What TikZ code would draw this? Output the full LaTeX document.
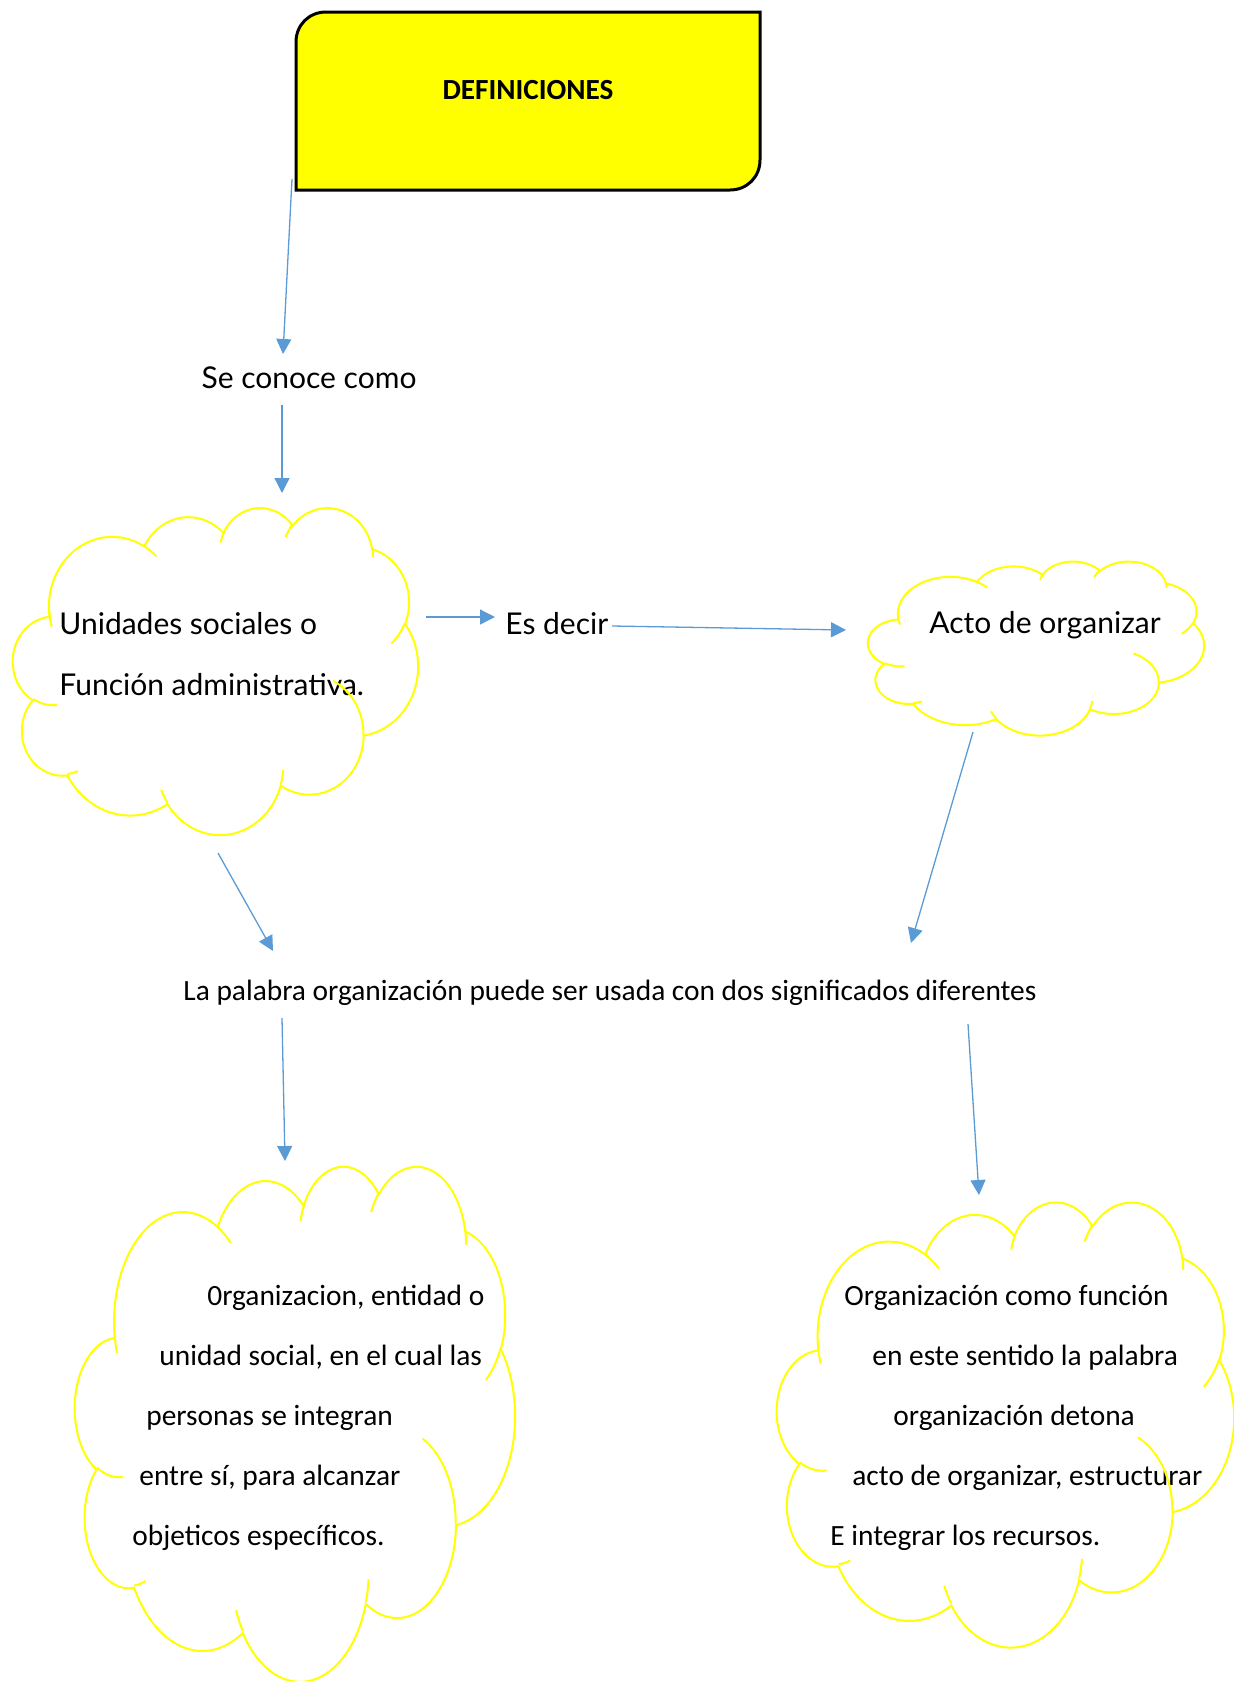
\documentclass[tikz,border=0pt]{standalone}
\usepackage{fontspec}
\setmainfont{Carlito}
\newfontfamily\gillfont{Lato}
\usetikzlibrary{positioning,arrows.meta}
\definecolor{linkblue}{HTML}{5B9BD5}
\definecolor{cloudyellow}{HTML}{FFFF00}

% cloud outline in a 4320 x 4320 box: #1,#2 top left corner, #3 width, #4 height
\newcommand{\wordcloud}[4]{%
	\begin{scope}[shift={(#1,#2)},xscale=#3/4320,yscale=#4/4320]
	\draw[cloudline] (390,1437)
		foreach \w/\h/\s/\d
		[evaluate=\s as \cst using {atan2(\w*sin(\s),\h*cos(\s))},
		 evaluate=\s as \csw using {mod(atan2(\w*sin(\s+\d),\h*cos(\s+\d))-\cst+720,360)}]
		in {675.3/919.0/-190.4875/123.7805, 533.3/726.7/-144.1024/89.9452,
			436.5/594.5/-145.8079/99.7230, 485.7/659.5/-130.9861/117.2417,
			533.3/727.3/-78.7089/109.0269, 677.5/922.0/-46.2673/130.2690,
			578.5/786.7/0.6250/114.0333, 675.2/921.5/22.4516/115.1726,
			772.0/1054.3/66.2426/75.7110, 436.0/591.8/-274.9421/146.7356,
			434.5/594.5/-246.8285/152.5189}
		{arc[start angle=\cst,delta angle=\csw,x radius=\w,y radius=\h]} -- cycle;
	\draw[cloudline]
		foreach \x/\y/\w/\h/\s/\d
		[evaluate=\s as \cst using {atan2(\w*sin(\s),\h*cos(\s))},
		 evaluate=\s as \csw using {mod(atan2(\w*sin(\s+\d),\h*cos(\s+\d))-\cst+720,360)}]
		in {469.3/2617.7/434.5/594.5/86.7420/26.4295,
			692.8/3489.9/436.0/591.8/73.6105/11.4475,
			1647.8/3909.0/675.2/921.5/137.6242/14.0811,
			2882.7/3475.1/675.2/921.5/6.4533/15.9984,
			3412.9/2295.4/578.5/786.7/-70.2924/70.9174,
			4179.8/1535.4/533.3/727.3/30.3180/27.7515,
			3832.4/542.6/485.7/659.5/-13.7443/14.8538,
			2907.8/395.2/485.7/659.5/-149.1815/18.1943,
			2214.1/472.0/436.5/594.5/-163.4943/17.6881,
			1400.0/519.2/675.3/919.0/-66.7070/12.3194,
			412.7/1578.9/675.3/919.0/158.1623/18.4460}
		{(\x,\y) arc[start angle=\cst,delta angle=\csw,x radius=\w,y radius=\h]};
	\end{scope}}

\begin{document}
\begin{tikzpicture}[x=0.5pt,y=-0.5pt,>={Triangle[length=7.5pt,width=7.5pt]},
	link/.style={->,linkblue,line width=0.65pt},
	cloudline/.style={draw=cloudyellow,line width=1pt},
	gill/.style={font=\gillfont\fontsize{15}{30.5}\selectfont,inner sep=0pt},
	cal/.style={font=\fontsize{14.7}{30}\selectfont,inner sep=0pt}]
	\useasboundingbox (0,0) rectangle (1234,1681);

	% title box
	\draw[fill=cloudyellow,line width=1.5pt] (296,190) -- (296,42)
		.. controls (296,25) and (309,12) .. (326,12) -- (760,12) -- (760,160)
		.. controls (760,177) and (747,190) .. (730,190) -- cycle;
	\node[font=\bfseries\fontsize{14.6}{16}\selectfont] (D) at (528,90) {DEFINICIONES};

	% texts
	\node[gill] (S) at (309,378) {Se conoce como};
	\node[gill,anchor=west,align=left] (U) at (59,654)
		{Unidades sociales o\\Función administrativa.};
	\node[gill,anchor=west] (E) at (505,624) {Es decir};
	\node[gill] (A) at (1045,625) {Acto de organizar};
	\node[font=\fontsize{14.7}{16}\selectfont] (L) at (610,993)
		{La palabra organización puede ser usada con dos significados diferentes};
	\node[cal,anchor=west,align=left] (O1) at (132,1418)
		{\hspace*{37.5pt}0rganizacion, entidad o\\
		 \hspace*{13.5pt}unidad social, en el cual las\\
		 \hspace*{7pt}personas se integran\\
		 \hspace*{3.5pt}entre sí, para alcanzar\\
		 objeticos específicos.};
	\node[cal,anchor=west,align=left] (O2) at (830,1418)
		{\hspace*{7pt}Organización como función\\
		 \hspace*{21pt}en este sentido la palabra\\
		 \hspace*{31.5pt}organización detona\\
		 \hspace*{11pt}acto de organizar, estructurar\\
		 E integrar los recursos.};

	% clouds
	\wordcloud{13}{507}{405}{327}
	\wordcloud{868}{561}{336}{174}
	\wordcloud{75}{1165}{440}{515}
	\wordcloud{777}{1201}{457}{445}

	% arrow ends
	\coordinate (Dout) at (292,179);  \coordinate (Sin) at (283,354);
	\coordinate (Sout) at (282,405);  \coordinate (C1in) at (282,493);
	\coordinate (C1out) at (426,617); \coordinate (Ein) at (495,617);
	\coordinate (Eout) at (612,626);  \coordinate (C2in) at (846,630);
	\coordinate (C2out) at (973,732); \coordinate (Lin2) at (911,943);
	\coordinate (C1down) at (218,853); \coordinate (Lin1) at (273,951);
	\coordinate (Lout1) at (282,1018); \coordinate (C3in) at (285,1161);
	\coordinate (Lout2) at (968,1024); \coordinate (C4in) at (979,1195);

	\draw[link] (Dout) -- (Sin);
	\draw[link] (Sout) -- (C1in);
	\draw[link] (C1out) -- (Ein);
	\draw[link] (Eout) -- (C2in);
	\draw[link] (C2out) -- (Lin2);
	\draw[link] (C1down) -- (Lin1);
	\draw[link] (Lout1) -- (C3in);
	\draw[link] (Lout2) -- (C4in);
\end{tikzpicture}
\end{document}
